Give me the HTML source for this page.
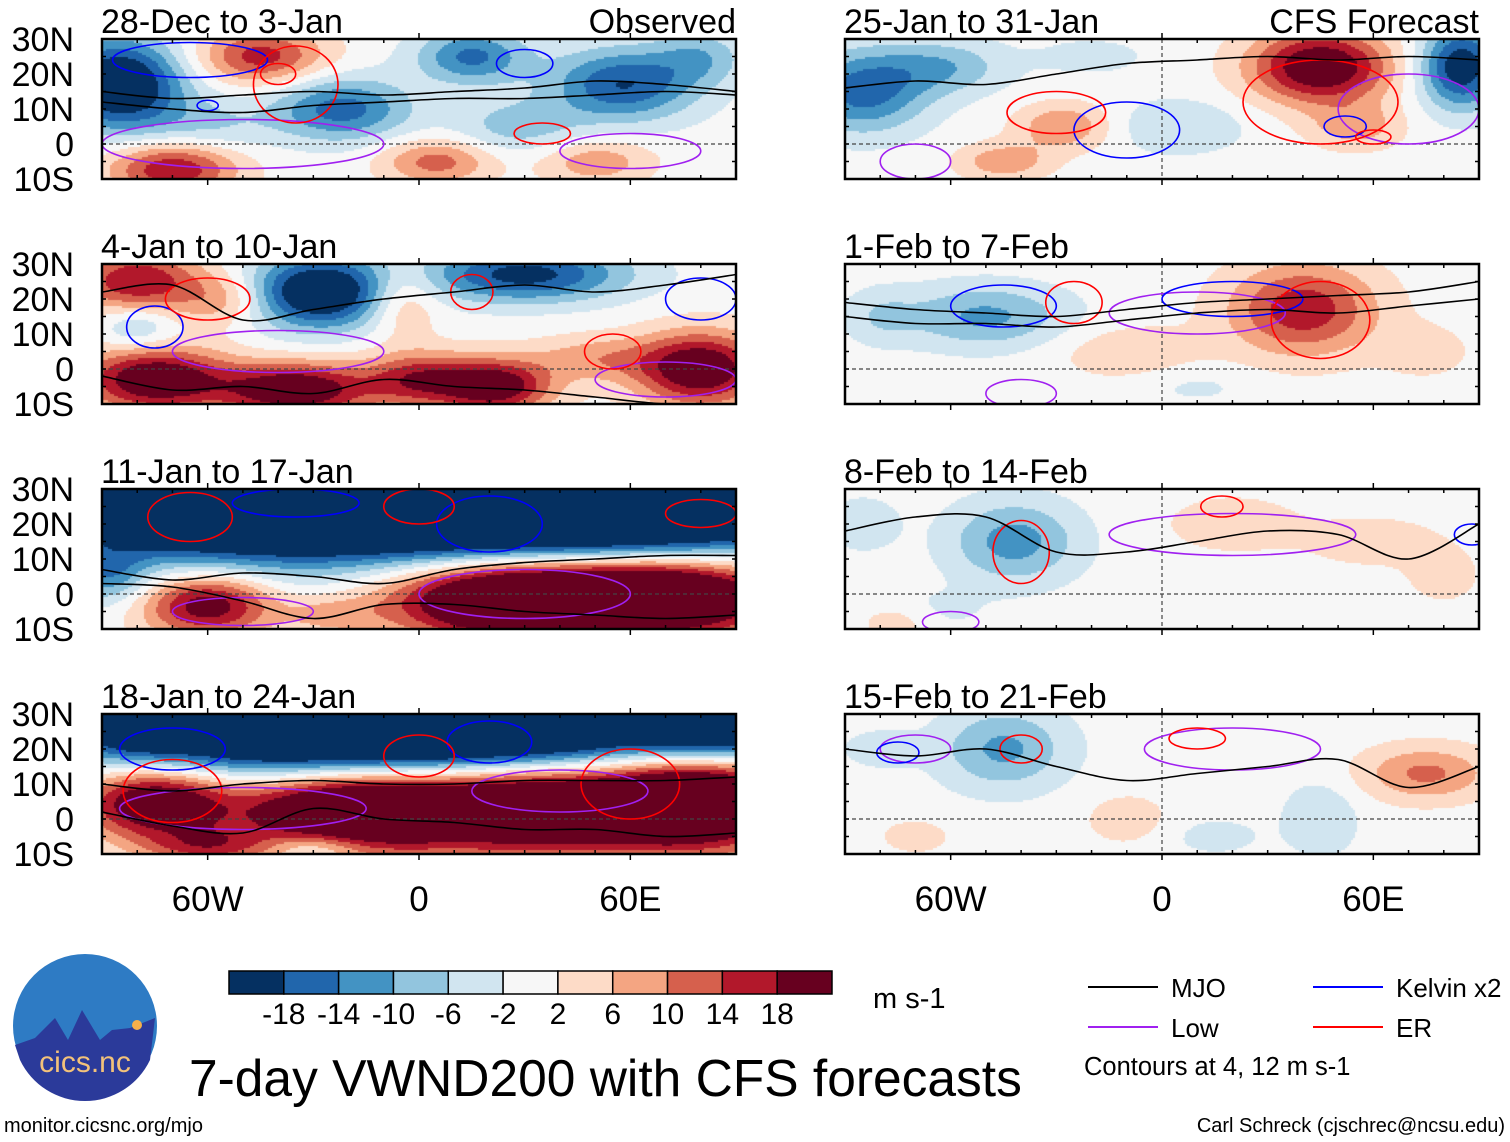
<!DOCTYPE html>
<html><head><meta charset="utf-8">
<style>
html,body{margin:0;padding:0;background:#fff;}
body{width:1510px;height:1142px;position:relative;overflow:hidden;font-family:"Liberation Sans",sans-serif;}
canvas{position:absolute;left:0;top:0;}
svg{position:absolute;left:0;top:0;}
</style></head>
<body>
<canvas id="cv" width="1510" height="1142"></canvas>
<svg id="sv" width="1510" height="1142"></svg>
<script>
// ---- data ----
const panelTitles = ["28-Dec to 3-Jan","4-Jan to 10-Jan","11-Jan to 17-Jan","18-Jan to 24-Jan","25-Jan to 31-Jan","1-Feb to 7-Feb","8-Feb to 14-Feb","15-Feb to 21-Feb"];
const levels = [-18,-14,-10,-6,-2,2,6,10,14,18];
const levelColors = ["#053061","#2166ac","#4393c3","#92c5de","#d1e5f0","#f7f7f7","#fddbc7","#f4a582","#d6604d","#b2182b","#67001f"];
const latTicks = [30,20,10,0,-10];
const latLabels = ["30N","20N","10N","0","10S"];
const lonTicks = [-60,0,60];
const lonLabels = ["60W","0","60E"];
// anomaly blobs per panel: [lon, lat, amplitude, lonRadius, latRadius]
const blobs0 = [[-85,17,-26,14,10],[-45,25,16,14,6],[-22,10,-16,15,7],[15,25,-15,12,6],[58,17,-18,16,8],[-70,-7,18,14,6],[5,-5,12,12,5],[50,-5,9,12,5],[28,5,-8,14,6],[-60,5,-6,14,6],[80,25,-8,10,6]];
const blobs1 = [[-80,25,18,14,7],[-55,20,9,10,6],[-28,22,-26,16,8],[30,27,-20,22,6],[-5,20,10,8,8],[-75,-3,24,16,7],[-35,-6,24,16,6],[0,-3,16,12,6],[22,-5,22,12,6],[80,0,24,14,8],[-80,12,-8,8,5],[50,3,8,14,5]];
const blobs2 = [[-60,25,-34,40,12],[10,25,-34,40,12],[70,25,-34,40,12],[-60,-3,22,14,7],[25,-1,34,26,9],[70,0,34,26,9],[-25,-6,6,10,4],[-88,5,-10,8,6]];
const blobs3 = [[-40,27,-34,45,11],[30,27,-34,45,11],[85,25,-20,15,6],[-80,25,-10,12,6],[-75,5,26,16,8],[-20,3,32,25,9],[35,4,34,30,10],[80,5,32,20,10],[-60,-8,12,14,4],[-30,-8,-8,10,3]];
const blobs4 = [[-85,15,-16,14,9],[-62,22,-9,14,6],[45,22,24,15,8],[85,22,-22,9,9],[-28,5,10,10,5],[-45,-5,9,10,4],[55,5,8,10,5],[5,5,-6,14,6],[-20,25,-4,12,4]];
const blobs5 = [[40,17,17,16,10],[-50,15,-11,18,7],[-10,5,5,16,6],[75,5,4,10,6],[-80,15,-5,8,6],[10,-5,-3,12,4]];
const blobs6 = [[-42,15,-12,14,9],[20,20,5,14,6],[60,15,4,16,6],[-65,-5,-3,12,5],[-75,-8,5,8,4],[-85,20,-5,8,6],[80,5,4,8,6]];
const blobs7 = [[-45,20,-11,14,9],[75,13,11,14,6],[45,0,-6,8,8],[-10,0,4,10,6],[15,-5,-4,10,4],[-70,-5,4,8,4],[-80,20,-5,8,4]];
const panelBlobs = [blobs0,blobs1,blobs2,blobs3,blobs4,blobs5,blobs6,blobs7];
// MJO contour lines: lat at lons
const contourLons = [-90,-70,-50,-30,-10,10,30,50,70,90];
const mjo0a = [15,13,14,15,14,15,16,18,17,15];
const mjo0b = [12,10,9,11,12,13,13,14,15,14];
const mjo1a = [22,24,14,17,20,22,24,22,24,27];
const mjo1b = [-2,-6,-5,-7,-3,-5,-6,-8,-10,-10];
const mjo2a = [7,4,6,5,3,7,9,10,11,11];
const mjo2b = [3,2,-2,-7,-3,-3,-5,-6,-7,-6];
const mjo3a = [10,8,10,11,10,10,11,11,11,12];
const mjo3b = [2,-2,-4,3,0,-1,-3,-3,-5,-4];
const mjo4a = [16,18,17,20,23,24,25,24,25,24];
const mjo5a = [19,17,16,15,17,19,20,21,22,25];
const mjo5b = [15,13,13,12,14,16,17,16,18,20];
const mjo6a = [18,22,22,12,12,15,18,17,10,20];
const mjo7a = [20,18,20,15,11,13,15,17,9,15];
const panelMjo = [[mjo0a,mjo0b],[mjo1a,mjo1b],[mjo2a,mjo2b],[mjo3a,mjo3b],[mjo4a],[mjo5a,mjo5b],[mjo6a],[mjo7a]];
// ER (red) / Kelvin (blue) / Low (purple) closed contours: [lon, lat, lonRadius, latRadius]
const er0 = [[-35,17,12,11],[-40,20,5,3],[35,3,8,3]];
const er1 = [[-60,20,12,6],[15,22,6,5],[55,5,8,5]];
const er2 = [[-65,22,12,7],[0,25,10,5],[80,23,10,4]];
const er3 = [[-70,8,14,9],[0,18,10,6],[60,10,14,10]];
const er4 = [[-30,9,14,6],[45,12,22,12],[60,2,5,2]];
const er5 = [[-25,19,8,6],[45,14,14,11]];
const er6 = [[-40,12,8,9],[17,25,6,3]];
const er7 = [[-40,20,6,4],[10,23,8,3]];
const panelEr = [er0,er1,er2,er3,er4,er5,er6,er7];
const kv0 = [[-65,24,22,5],[-60,11,3,1.5],[30,23,8,4]];
const kv1 = [[-75,12,8,6],[80,20,10,6]];
const kv2 = [[-35,26,18,4],[20,20,15,8]];
const kv3 = [[-70,20,15,6],[20,22,12,6]];
const kv4 = [[-10,4,15,8],[52,5,6,3]];
const kv5 = [[-45,18,15,6],[20,20,20,5]];
const kv6 = [[88,17,5,3]];
const kv7 = [[-75,19,6,3]];
const panelKv = [kv0,kv1,kv2,kv3,kv4,kv5,kv6,kv7];
const lw0 = [[-50,0,40,7],[60,-2,20,5]];
const lw1 = [[-40,5,30,6],[70,-3,20,5]];
const lw2 = [[30,0,30,7],[-50,-5,20,4]];
const lw3 = [[-50,3,35,6],[40,8,25,6]];
const lw4 = [[70,10,20,10],[-70,-5,10,5]];
const lw5 = [[10,16,25,6],[-40,-7,10,4]];
const lw6 = [[20,17,35,6],[-60,-8,8,3]];
const lw7 = [[20,20,25,6],[-70,20,10,4]];
const panelLow = [lw0,lw1,lw2,lw3,lw4,lw5,lw6,lw7];

// ---- layout ----
const colX = [102,845], rowY = [39,264,489,714], PW=634, PH=140;
const NS="http://www.w3.org/2000/svg";
const sv=document.getElementById('sv');
function mk(tag,attrs,parent){const e=document.createElementNS(NS,tag);for(const k in attrs)e.setAttribute(k,attrs[k]);(parent||sv).appendChild(e);return e;}
function panelBox(i){return {x0:colX[Math.floor(i/4)],y0:rowY[i%4]};}
function xScale(b,lon){return b.x0+(lon+90)/180*PW;}
function yScale(b,lat){return b.y0+(30-lat)/40*PH;}
function colorFor(v){let k=0;while(k<levels.length&&v>=levels[k])k++;return levelColors[k];}
const spread=1.3;
function field(bl,lon,lat){let s=0;for(const [cx,cy,a,rx,ry] of bl){const dx=(lon-cx)/(rx*spread),dy=(lat-cy)/(ry*spread);s+=a*Math.exp(-(dx*dx+dy*dy));}return s;}
function smoothPath(pts){let d='M'+pts[0][0].toFixed(1)+','+pts[0][1].toFixed(1);
  for(let k=0;k<pts.length-1;k++){const p0=pts[Math.max(0,k-1)],p1=pts[k],p2=pts[k+1],p3=pts[Math.min(pts.length-1,k+2)];
    const c1=[p1[0]+(p2[0]-p0[0])/6,p1[1]+(p2[1]-p0[1])/6],c2=[p2[0]-(p3[0]-p1[0])/6,p2[1]-(p3[1]-p1[1])/6];
    d+='C'+c1[0].toFixed(1)+','+c1[1].toFixed(1)+' '+c2[0].toFixed(1)+','+c2[1].toFixed(1)+' '+p2[0].toFixed(1)+','+p2[1].toFixed(1);}
  return d;}

const ctx=document.getElementById('cv').getContext('2d');
const cell=2;
for(let i=0;i<8;i++){
  const b=panelBox(i);
  for(let px=0;px<PW;px+=cell){for(let py=0;py<PH;py+=cell){
    const lon=(px+cell/2)/PW*180-90, lat=30-(py+cell/2)/PH*40;
    ctx.fillStyle=colorFor(field(panelBlobs[i],lon,lat));
    ctx.fillRect(b.x0+px,b.y0+py,cell,cell);
  }}
}

for(let i=0;i<8;i++){
  const b=panelBox(i);
  const g=mk('g',{});
  
  
  const clipId='clip'+i;
  const cp=mk('clipPath',{id:clipId},g);
  mk('rect',{x:b.x0,y:b.y0,width:PW,height:PH},cp);
  const inner=mk('g',{'clip-path':'url(#'+clipId+')'},g);
  
  
  const eq=mk('line',{x1:b.x0,x2:b.x0+PW,y1:yScale(b,0),y2:yScale(b,0),stroke:'#444','stroke-width':1.2,'stroke-dasharray':'4,3'},inner);
  
  
  if(i>=4){const pm=mk('line',{x1:xScale(b,0),x2:xScale(b,0),y1:b.y0,y2:b.y0+PH,stroke:'#444','stroke-width':1.2,'stroke-dasharray':'4,3'},inner);
    
    }
  const groups=[[panelLow[i],'#a020f0','low-contour'],[panelKv[i],'#0000ff','kelvin-contour'],[panelEr[i],'#ff0000','er-contour']];
  for(const [list,col,nm] of groups){for(const [cx,cy,rx,ry] of list){
    const e=mk('ellipse',{cx:xScale(b,cx),cy:yScale(b,cy),rx:rx/180*PW,ry:ry/40*PH,fill:'none',stroke:col,'stroke-width':1.6},inner);
    
    }}
  for(const arr of panelMjo[i]){
    const pts=contourLons.map((lo,k)=>[xScale(b,lo),yScale(b,arr[k])]);
    const p=mk('path',{d:smoothPath(pts),fill:'none',stroke:'#000','stroke-width':1.6},inner);
    
    
  }
  const r=mk('rect',{x:b.x0,y:b.y0,width:PW,height:PH,fill:'none',stroke:'#000','stroke-width':2.5},g);
  
  
  for(let lo=-90;lo<=90;lo+=10){const x=xScale(b,lo);const major=lo%60===0;
    mk('line',{x1:x,x2:x,y1:b.y0,y2:b.y0+(major?-6:4),stroke:'#000','stroke-width':1.5},g);
    mk('line',{x1:x,x2:x,y1:b.y0+PH,y2:b.y0+PH+(major?6:-4),stroke:'#000','stroke-width':1.5},g);}
  for(let la=-10;la<=30;la+=5){const y=yScale(b,la);
    mk('line',{x1:b.x0,x2:b.x0+4,y1:y,y2:y,stroke:'#000','stroke-width':1.5},g);
    mk('line',{x1:b.x0+PW,x2:b.x0+PW-4,y1:y,y2:y,stroke:'#000','stroke-width':1.5},g);}
  const t=mk('text',{x:b.x0-1,y:b.y0-6,'font-size':34,fill:'#000'},g);t.textContent=panelTitles[i];
  
  
  if(i===0){const o=mk('text',{x:b.x0+PW,y:b.y0-6,'font-size':34,'text-anchor':'end'},g);o.textContent='Observed';
    }
  if(i===4){const o=mk('text',{x:b.x0+PW,y:b.y0-6,'font-size':34,'text-anchor':'end'},g);o.textContent='CFS Forecast';
    }
  if(i<4){latTicks.forEach((la,k)=>{const tt=mk('text',{x:74,y:yScale(b,la)+12,'font-size':34,'text-anchor':'end'},g);tt.textContent=latLabels[k];
    });}
  if(i%4===3){lonTicks.forEach((lo,k)=>{const tt=mk('text',{x:xScale(b,lo),y:911,'font-size':35,'text-anchor':'middle'},g);tt.textContent=lonLabels[k];
    });}
}

// colorbar
const cb=mk('g',{});


const cbX=229,cbW=603/11;
levelColors.forEach((c,k)=>{const r=mk('rect',{x:cbX+k*cbW,y:971,width:cbW,height:23,fill:c,stroke:'#000','stroke-width':1.5},cb);
  });
levels.forEach((v,k)=>{const t=mk('text',{x:cbX+(k+1)*cbW,y:1024,'font-size':30,'text-anchor':'middle'},cb);t.textContent=v;
  });
const un=mk('text',{x:873,y:1008,'font-size':29});un.textContent='m s-1';

const ti=mk('text',{x:189,y:1096,'font-size':51.5});ti.textContent='7-day VWND200 with CFS forecasts';


// legend
const legendNames=["MJO","Kelvin x2","Low","ER"];
const legendColors=["#000","#0000ff","#a020f0","#ff0000"];
const lg=mk('g',{});


legendNames.forEach((n,k)=>{const x=k%2?1313:1088,y=k<2?987:1027;
  mk('line',{x1:x,x2:x+70,y1:y,y2:y,stroke:legendColors[k],'stroke-width':2},lg);
  const t=mk('text',{x:x+83,y:y+10,'font-size':26},lg);t.textContent=n;
  });
const cn=mk('text',{x:1084,y:1075,'font-size':25.5});cn.textContent='Contours at 4, 12 m s-1';

const cr=mk('text',{x:1505,y:1132,'font-size':20,'text-anchor':'end'});cr.textContent='Carl Schreck (cjschrec@ncsu.edu)';

const url=mk('text',{x:4,y:1132,'font-size':20});url.textContent='monitor.cicsnc.org/mjo';


// logo
const lo=mk('g',{});


mk('circle',{cx:85,cy:1026,r:72,fill:'#2e7bc4'},lo);
mk('path',{d:'M15,1045 L35,1038 L55,1018 L68,1040 L82,1010 L100,1040 L112,1030 L130,1028 L155,1018 L150,1060 A72,72 0 0 1 20,1060 Z',fill:'#2b3a9a'},lo);
mk('circle',{cx:137,cy:1025,r:5,fill:'#f6b04a'},lo);
const lt=mk('text',{x:85,y:1072,'font-size':30,'text-anchor':'middle',fill:'#f3c27a'},lo);lt.textContent='cics.nc';

</script>
</body></html>
